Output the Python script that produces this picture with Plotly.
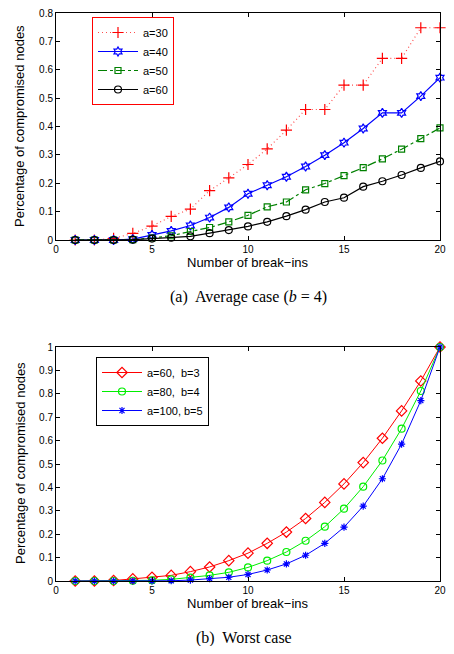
import plotly.graph_objects as go

x_vals = list(range(1, 21))

# (a) Average case (b = 4)
avg_a30 = [0, 0, 0.006, 0.023, 0.049, 0.083, 0.109, 0.174, 0.219, 0.266,
           0.321, 0.387, 0.460, 0.460, 0.546, 0.546, 0.640, 0.640, 0.748, 0.748]
avg_a40 = [0, 0, 0, 0.003, 0.018, 0.032, 0.051, 0.079, 0.115, 0.163,
           0.193, 0.223, 0.259, 0.299, 0.343, 0.393, 0.448, 0.448, 0.507, 0.572]
avg_a50 = [0, 0, 0, 0.001, 0.007, 0.015, 0.030, 0.044, 0.064, 0.087,
           0.117, 0.134, 0.177, 0.199, 0.227, 0.255, 0.286, 0.320, 0.357, 0.395]
avg_a60 = [0, 0, 0, 0.001, 0.005, 0.008, 0.013, 0.024, 0.035, 0.048,
           0.064, 0.084, 0.107, 0.134, 0.149, 0.188, 0.207, 0.229, 0.254, 0.277]

# (b) Worst case
worst_a60_b3 = [0, 0, 0.002, 0.009, 0.016, 0.024, 0.040, 0.060, 0.087, 0.119,
                0.161, 0.209, 0.267, 0.336, 0.415, 0.506, 0.610, 0.727, 0.855, 1.0]
worst_a80_b4 = [0, 0, 0, 0.001, 0.003, 0.007, 0.014, 0.024, 0.037, 0.058,
                0.087, 0.124, 0.172, 0.232, 0.309, 0.403, 0.515, 0.651, 0.812, 1.0]
worst_a100_b5 = [0, 0, 0, 0, 0, 0.001, 0.004, 0.010, 0.016, 0.028,
                 0.047, 0.073, 0.110, 0.161, 0.230, 0.320, 0.437, 0.585, 0.771, 1.0]

# page has an 8px body margin: figure is drawn at offset (8, 8)
OFF = 8
W, H = 454 - 2 * OFF, 654 - 2 * OFF
SANS = "Liberation Sans, Arial, sans-serif"
SERIF = "Liberation Serif, Times New Roman, serif"


def px(v):
    return min(1.0, max(0.0, (v - OFF) / W))


def py(v):
    return min(1.0, max(0.0, 1 - (v - OFF) / H))


fig = go.Figure()

top_series = [
    ("a=30", avg_a30, "#ff0000", "rgba(255,0,0,0.7)", "1px,3px", "cross-thin-open", 8),
    ("a=40", avg_a40, "#0000ff", "#0000ff", "solid", "hexagram-open", 7),
    ("a=50", avg_a50, "#008000", "#008000", "dashdot", "square-open", 6),
    ("a=60", avg_a60, "#000000", "#000000", "solid", "circle-open", 7),
]
for name, ys, col, lcol, dash, sym, sz in top_series:
    fig.add_trace(go.Scatter(
        x=x_vals, y=ys, name=name, mode="lines+markers",
        line=dict(color=lcol, width=1.2, dash=dash),
        marker=dict(symbol=sym, size=sz, color=col, line=dict(color=col, width=1.2)),
        xaxis="x", yaxis="y", legend="legend", cliponaxis=False,
    ))

bottom_series = [
    ("a=60,  b=3", worst_a60_b3, "#ff0000", "diamond-open", 8),
    ("a=80,  b=4", worst_a80_b4, "#00ee00", "circle-open", 7),
    ("a=100, b=5", worst_a100_b5, "#0000ff", "asterisk-open", 6),
]
for name, ys, col, sym, sz in bottom_series:
    fig.add_trace(go.Scatter(
        x=x_vals, y=ys, name=name, mode="lines+markers",
        line=dict(color=col, width=1),
        marker=dict(symbol=sym, size=sz, color=col, line=dict(color=col, width=1.2)),
        xaxis="x2", yaxis="y2", legend="legend2", cliponaxis=False,
    ))

axis_common = dict(
    showline=True, linecolor="black", linewidth=1, mirror="ticks",
    ticks="inside", ticklen=4, tickcolor="black", showgrid=False,
    zeroline=False, automargin=False, ticklabeloverflow="allow",
    tickfont=dict(family=SANS, size=10, color="black"),
)

fig.update_layout(
    width=W, height=H,
    margin=dict(l=0, r=0, t=0, b=0),
    paper_bgcolor="white", plot_bgcolor="white",
    xaxis=dict(domain=[px(56), px(440)], range=[0, 20], dtick=5, anchor="y", **axis_common),
    yaxis=dict(domain=[py(240), py(13)], range=[0, 0.8], dtick=0.1, anchor="x", **axis_common),
    xaxis2=dict(domain=[px(56), px(440)], range=[0, 20], dtick=5, anchor="y2", **axis_common),
    yaxis2=dict(domain=[py(581), py(347)], range=[0, 1], dtick=0.1, anchor="x2", **axis_common),
    legend=dict(
        x=px(92), y=py(17), xanchor="left", yanchor="top",
        bordercolor="#ff0000", borderwidth=1, bgcolor="white",
        font=dict(family=SANS, size=11, color="black"),
        itemwidth=40, tracegroupgap=0,
    ),
    legend2=dict(
        x=px(96), y=py(357), xanchor="left", yanchor="top",
        bordercolor="black", borderwidth=1, bgcolor="white",
        font=dict(family=SANS, size=11, color="black"),
        itemwidth=40, tracegroupgap=0,
    ),
    showlegend=True,
)

annotations = [
    dict(text="Number of break\u2212ins", x=px(248), y=py(263), font=dict(family=SANS, size=13, color="black")),
    dict(text="Percentage of compromised nodes", x=px(20), y=py(126), textangle=-90,
         font=dict(family=SANS, size=13, color="black")),
    dict(text="Number of break\u2212ins", x=px(248), y=py(603), font=dict(family=SANS, size=13, color="black")),
    dict(text="Percentage of compromised nodes", x=px(20), y=py(463), textangle=-90,
         font=dict(family=SANS, size=13, color="black")),
    dict(text="(a)  Average case (<i>b</i> = 4)", x=px(248), y=py(297),
         font=dict(family=SERIF, size=16, color="black")),
    dict(text="(b)  Worst case", x=px(244), y=py(638),
         font=dict(family=SERIF, size=16, color="black")),
]
for a in annotations:
    a.update(xref="paper", yref="paper", showarrow=False, xanchor="center", yanchor="middle")
fig.update_layout(annotations=annotations)

fig.write_html("out.html")
